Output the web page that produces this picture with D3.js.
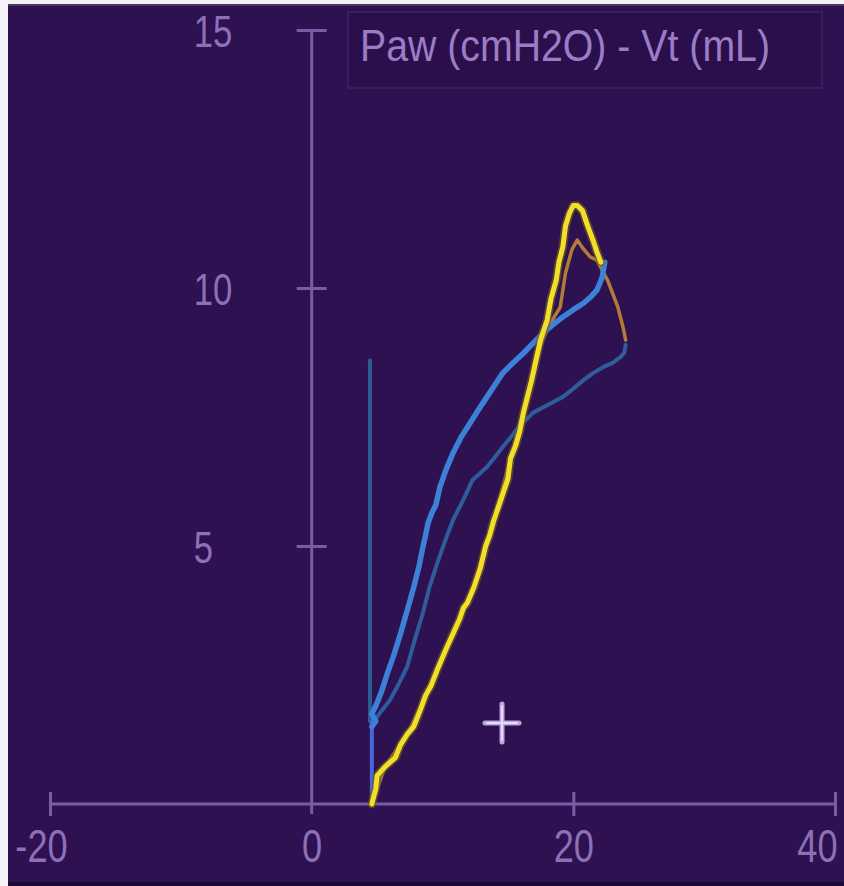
<!DOCTYPE html>
<html>
<head>
<meta charset="utf-8">
<script src="https://cdnjs.cloudflare.com/ajax/libs/d3/7.8.5/d3.min.js"></script>
<style>
  html, body { margin: 0; padding: 0; background: #ffffff; }
  svg { display: block; }
</style>
</head>
<body>
<svg id="chart" width="844" height="886"></svg>
<script>
// axis ticks
const xTicks = [-20, 0, 20, 40];
const yTicks = [5, 10, 15];
const title = "Paw (cmH2O) - Vt (mL)";

// current breath, inspiration (yellow) [Paw, Vt]
const inspCurrent = [
  [4.6, 0], [4.9, 0.3], [5.0, 0.55], [5.6, 0.72], [6.4, 0.9], [6.8, 1.15], [7.3, 1.35],
  [7.8, 1.5], [8.3, 1.82], [8.7, 2.1], [9.1, 2.28], [9.6, 2.6], [10.3, 3.02], [10.8, 3.3],
  [11.3, 3.58], [11.6, 3.8], [11.9, 3.9], [12.4, 4.2], [12.9, 4.58], [13.3, 5.0], [13.6, 5.2],
  [13.9, 5.48], [14.4, 5.85], [15.0, 6.3], [15.2, 6.7], [15.6, 6.95], [15.9, 7.22], [16.2, 7.6],
  [16.5, 7.9], [16.8, 8.2], [17.2, 8.66], [17.5, 9.0], [18.0, 9.38], [18.3, 9.8], [18.7, 10.16],
  [18.9, 10.5], [19.2, 10.8], [19.4, 11.2], [19.7, 11.45], [20.0, 11.6], [20.3, 11.6],
  [20.7, 11.5], [21.1, 11.2], [21.5, 10.93], [21.8, 10.7], [22.1, 10.5]
];

// current breath, expiration (blue)
const expCurrent = [
  [22.4, 10.5], [22.2, 10.2], [21.8, 9.96], [21.3, 9.82], [20.8, 9.71], [20.0, 9.58],
  [19.2, 9.44], [18.4, 9.28], [17.7, 9.13], [17.0, 8.95], [16.2, 8.74], [15.4, 8.55],
  [14.6, 8.35], [14.0, 8.12], [13.4, 7.89], [12.7, 7.62], [12.1, 7.38], [11.4, 7.1],
  [10.8, 6.8], [10.3, 6.5], [9.8, 6.14], [9.5, 5.8], [9.2, 5.65], [8.9, 5.45], [8.7, 5.2],
  [8.5, 4.98], [8.2, 4.6], [7.8, 4.2], [7.3, 3.75], [6.8, 3.31], [6.3, 2.9], [5.8, 2.54],
  [5.3, 2.15], [4.9, 1.9], [4.6, 1.75], [4.9, 1.6], [4.6, 1.5]
];

// trigger segment back to baseline
const triggerCurrent = [[4.6, 1.6], [4.6, 0]];

// previous breath, inspiration (faded orange), lower part runs under the yellow
const inspPrevious = [
  [4.6, 0], [5.6, 0.72], [7.3, 1.35], [9.1, 2.28], [10.8, 3.3], [12.4, 4.2], [13.9, 5.48],
  [15.2, 6.7], [16.5, 7.9], [17.5, 8.9], [18.2, 9.3], [19.0, 9.63], [19.4, 10.29],
  [19.9, 10.75], [20.3, 10.93], [20.7, 10.78], [21.3, 10.6], [21.8, 10.54], [22.3, 10.3],
  [22.6, 10.16], [23.0, 9.9], [23.4, 9.63], [23.8, 9.24], [24.0, 8.99]
];

// previous breath, expiration (dark blue)
const expPrevious = [
  [24.0, 8.9], [23.9, 8.75], [23.6, 8.66], [23.0, 8.55], [22.3, 8.47], [21.5, 8.35],
  [20.8, 8.22], [20.0, 8.05], [19.2, 7.89], [18.4, 7.78], [17.7, 7.69], [16.9, 7.58],
  [16.4, 7.45], [15.9, 7.34], [15.2, 7.1], [14.6, 6.92], [14.0, 6.72], [13.4, 6.53],
  [12.3, 6.28], [11.6, 5.9], [10.8, 5.5], [10.2, 5.1], [9.6, 4.67], [9.0, 4.2], [8.5, 3.7],
  [7.9, 3.2], [7.3, 2.66], [6.6, 2.3], [6.0, 2.02], [5.2, 1.76], [4.6, 1.53]
];

// previous trigger (vertical)
const triggerPrevious = [[4.46, 8.6], [4.46, 1.6]];

// cursor position
const cursor = [14.55, 1.57];

const svg = d3.select("#chart");
const W = 844, H = 886;

const textColor = "#8e6fb8";
const axisColor = "#7a5ca6";
const font = "'Liberation Sans', Arial, sans-serif";
const narrow = 0.77; // condensed look for the numbers

// background + frame edges
svg.append("rect").attr("width", W).attr("height", H).attr("fill", "#2d1150");
svg.append("rect").attr("x", 0).attr("y", 0).attr("width", 8).attr("height", H).attr("fill", "#f4f2f6");
svg.append("rect").attr("x", 0).attr("y", 0).attr("width", W).attr("height", 4).attr("fill", "#f4f2f6");
svg.append("rect").attr("x", 8).attr("y", 4).attr("width", W).attr("height", 2).attr("fill", "#4a3a5e");
svg.append("rect").attr("x", 8).attr("y", 882).attr("width", W).attr("height", 4).attr("fill", "#1e0a36");

const x = d3.scaleLinear().domain([-20, 40]).range([50, 835]);
const y = d3.scaleLinear().domain([0, 15]).range([804, 30]);

// title box
svg.append("rect")
  .attr("x", 348).attr("y", 12).attr("width", 474).attr("height", 76)
  .attr("fill", "#2b0f4a").attr("stroke", "#3b1d5e").attr("stroke-width", 2);
svg.append("text")
  .attr("x", 360).attr("y", 61)
  .attr("font-family", font).attr("font-size", 44)
  .attr("textLength", 410).attr("lengthAdjust", "spacingAndGlyphs")
  .attr("fill", "#9a7dc6")
  .text(title);

// x axis
const xAxis = svg.append("g")
  .attr("transform", `translate(0,${y(0)})`)
  .call(d3.axisBottom(x).tickValues(xTicks).tickSize(12).tickPadding(13).tickFormat(d3.format("d")));
xAxis.select(".domain").attr("stroke", axisColor).attr("stroke-width", 3)
  .attr("d", `M${x(-20)},0H${x(40)}`);
xAxis.selectAll(".tick line").attr("stroke", axisColor).attr("stroke-width", 3).attr("y1", -12);
xAxis.selectAll(".tick line").filter(d => d === 0).remove();
xAxis.selectAll(".tick text")
  .attr("fill", textColor).attr("font-family", font).attr("font-size", 47)
  .attr("transform", `scale(${narrow},1)`)
  .attr("dx", d => (d === -20 ? -9 : d === 40 ? -18 : 0) / narrow)
  .text(d => d);

// y axis
const yAxis = svg.append("g")
  .attr("transform", `translate(${x(0)},0)`)
  .call(d3.axisLeft(y).tickValues(yTicks).tickSize(15).tickPadding(0));
yAxis.select(".domain").attr("stroke", axisColor).attr("stroke-width", 3)
  .attr("d", `M0,${y(15)}V${y(0) + 10}`);
yAxis.selectAll(".tick line").attr("stroke", axisColor).attr("stroke-width", 3).attr("x2", 15).attr("x1", -15);
yAxis.selectAll(".tick text")
  .attr("fill", textColor).attr("font-family", font).attr("font-size", 45)
  .attr("text-anchor", "start").attr("transform", `scale(${narrow},1)`)
  .attr("x", -118 / narrow).attr("dy", "0.36em");

// loops
const line = d3.line().x(d => x(d[0])).y(d => y(d[1]));
const plot = svg.append("g").attr("fill", "none")
  .attr("stroke-linejoin", "round").attr("stroke-linecap", "round");

plot.append("path").attr("d", line(triggerPrevious))
  .attr("stroke", "#2c6aa0").attr("stroke-width", 4).attr("opacity", 0.85);
plot.append("path").attr("d", line(inspPrevious))
  .attr("stroke", "#b07c38").attr("stroke-width", 3.5);
plot.append("path").attr("d", line(expPrevious))
  .attr("stroke", "#2f5d9c").attr("stroke-width", 4);
plot.append("path").attr("d", line(triggerCurrent))
  .attr("stroke", "#4a66d6").attr("stroke-width", 4);
plot.append("path").attr("d", line(expCurrent))
  .attr("stroke", "#3c80d8").attr("stroke-width", 5.5);
plot.append("path").attr("d", line(inspCurrent))
  .attr("stroke", "#6e5a22").attr("stroke-width", 8.5).attr("opacity", 0.7);
plot.append("path").attr("d", line(inspCurrent))
  .attr("stroke", "#f2df2c").attr("stroke-width", 5);

// cursor cross
const cx = x(cursor[0]), cy = y(cursor[1]);
const cross = svg.append("g").attr("stroke-linecap", "round");
cross.append("line").attr("x1", cx - 17).attr("x2", cx + 17).attr("y1", cy).attr("y2", cy)
  .attr("stroke", "#b9a6de").attr("stroke-width", 5);
cross.append("line").attr("x1", cx).attr("x2", cx).attr("y1", cy - 19).attr("y2", cy + 19)
  .attr("stroke", "#b9a6de").attr("stroke-width", 5);
cross.append("line").attr("x1", cx - 15).attr("x2", cx + 15).attr("y1", cy).attr("y2", cy)
  .attr("stroke", "#e6dcf6").attr("stroke-width", 2);
cross.append("line").attr("x1", cx).attr("x2", cx).attr("y1", cy - 17).attr("y2", cy + 17)
  .attr("stroke", "#e6dcf6").attr("stroke-width", 2);
</script>
</body>
</html>
